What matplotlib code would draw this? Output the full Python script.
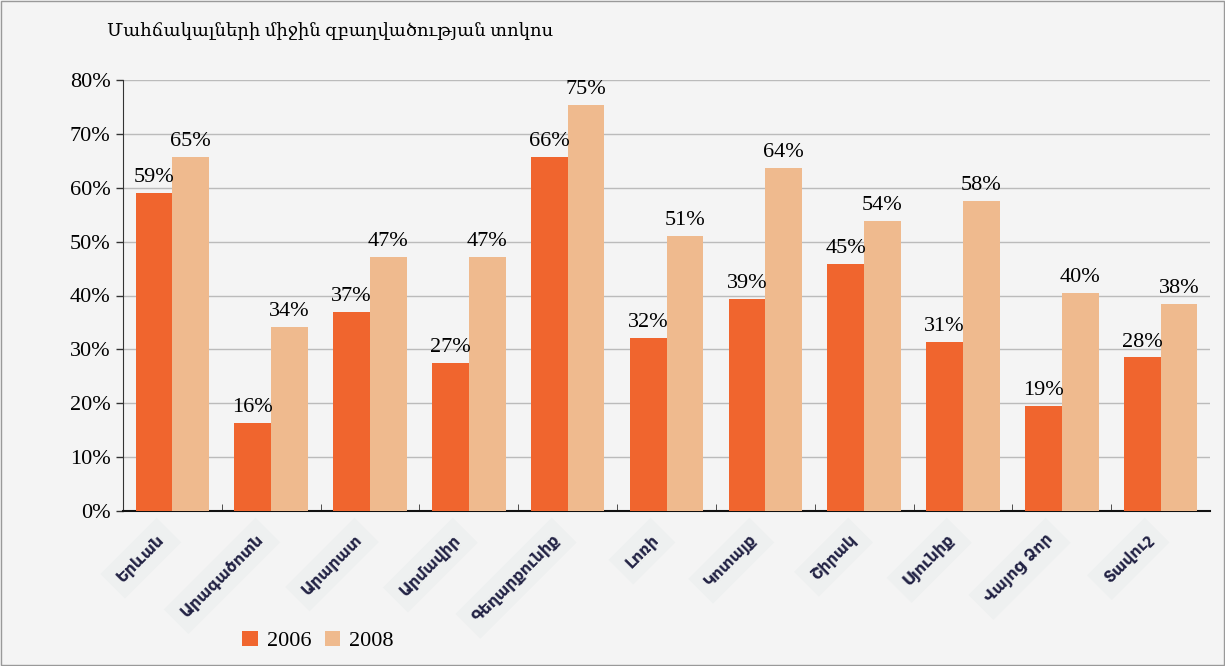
import numpy as np
import matplotlib.pyplot as plt

# Մարզեր (regions)
regions = ["Երևան", "Արագածոտն", "Արարատ", "Արմավիր", "Գեղարքունիք", "Լոռի",
           "Կոտայք", "Շիրակ", "Սյունիք", "Վայոց Ձոր", "Տավուշ"]

# bar heights, in %
values_2006 = [59.0, 16.3, 36.9, 27.4, 65.7, 32.1, 39.3, 45.8, 31.3, 19.5, 28.5]
values_2008 = [65.7, 34.1, 47.1, 47.1, 75.3, 51.0, 63.6, 53.8, 57.6, 40.4, 38.4]

# labels as printed on the chart
labels_2006 = ["59%", "16%", "37%", "27%", "66%", "32%", "39%", "45%", "31%", "19%", "28%"]
labels_2008 = ["65%", "34%", "47%", "47%", "75%", "51%", "64%", "54%", "58%", "40%", "38%"]

title = "Մահճակալների միջին զբաղվածության տոկոս"

serif = ["Liberation Serif", "DejaVu Serif"]
bg = "#f4f4f4"
c2006 = "#f0652e"
c2008 = "#efba8e"

fig = plt.figure(figsize=(12.25, 6.66), dpi=100, facecolor=bg)
ax = fig.add_axes([123 / 1225, 155 / 666, 1087 / 1225, 431 / 666], facecolor=bg)

x = np.arange(len(regions))
w = 0.372
b1 = ax.bar(x - w / 2, values_2006, w, color=c2006, label="2006", zorder=3)
b2 = ax.bar(x + w / 2, values_2008, w, color=c2008, label="2008", zorder=3)

for rect, lab in zip(b1, labels_2006):
    ax.text(rect.get_x() + rect.get_width() / 2, rect.get_height() + 1.1, lab,
            ha="center", va="bottom", fontsize=16, family=serif, zorder=4)
for rect, lab in zip(b2, labels_2008):
    ax.text(rect.get_x() + rect.get_width() / 2, rect.get_height() + 1.1, lab,
            ha="center", va="bottom", fontsize=16, family=serif, zorder=4)

ax.set_xlim(-0.5, len(regions) - 0.5)
ax.set_ylim(0, 80)
ax.set_yticks(np.arange(0, 81, 10))
ax.set_yticklabels([f"{v}%" for v in range(0, 81, 10)], family=serif, fontsize=16)
ax.yaxis.grid(True, color="#bbbbbb", linewidth=1, zorder=0)
ax.tick_params(axis="y", length=5, width=1, color="#333333", pad=4)

# small ticks between groups, pointing up
ax.set_xticks(np.arange(0.5, len(regions) - 0.5, 1), minor=True)
ax.tick_params(axis="x", which="minor", direction="in", length=5, color="#333333")
ax.set_xticks(x)
ax.set_xticklabels([])
ax.tick_params(axis="x", which="major", length=0)

for s in ["top", "right"]:
    ax.spines[s].set_visible(False)
ax.spines["left"].set_color("#333333")
ax.spines["bottom"].set_color("#111111")
ax.spines["bottom"].set_linewidth(1.5)

# rotated region names with light boxes
for xi, name in zip(x, regions):
    ax.text(xi - 0.05, -3.8, name, rotation=45, ha="right", va="top",
            fontsize=11.5, fontweight="bold", color="#222244",
            transform=ax.transData, clip_on=False,
            bbox=dict(facecolor="#eef0f0", edgecolor="none", pad=7))

fig.text(107 / 1225, 1 - 31 / 666, title, ha="left", va="center",
         fontsize=13, family=serif)

leg = fig.legend(handles=[b1, b2], loc="center", bbox_to_anchor=(318 / 1225, 1 - 641 / 666),
                 ncol=2, frameon=False, prop={"family": serif, "size": 16},
                 handlelength=0.7, handleheight=0.7, handletextpad=0.4, columnspacing=0.6)

# thin frame round the whole figure
fig.patches.append(plt.Rectangle((0.001, 0.002), 0.998, 0.996, transform=fig.transFigure,
                                 fill=False, edgecolor="#999999", linewidth=1))

fig.savefig("out.png", dpi=100, facecolor=bg)
